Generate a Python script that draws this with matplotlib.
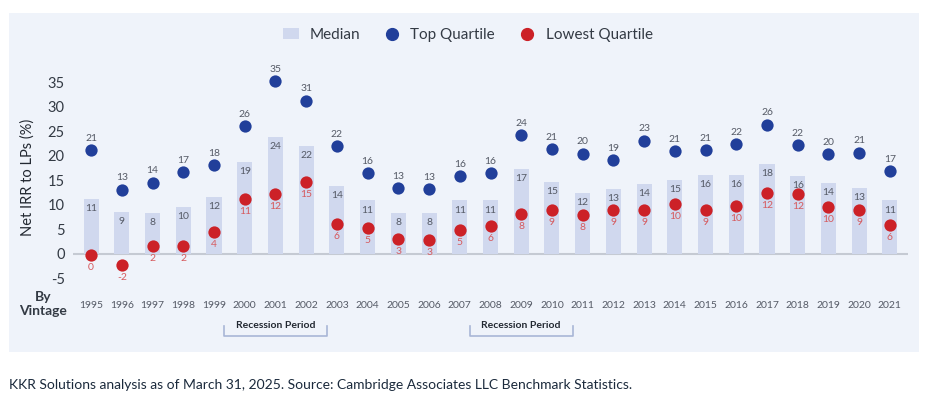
import matplotlib
matplotlib.use("Agg")
import matplotlib.pyplot as plt
from matplotlib.patches import Rectangle
from matplotlib.lines import Line2D
import numpy as np

years = list(range(1995, 2022))
median = [11.2, 8.6, 8.4, 9.6, 11.7, 18.7, 23.8, 22.0, 13.9, 10.9, 8.3, 8.3, 10.9, 10.9,
          17.4, 14.7, 12.4, 13.2, 14.2, 15.1, 16.1, 16.1, 18.4, 15.9, 14.4, 13.4, 10.9]
top_quartile = [21.2, 13.1, 14.5, 16.7, 18.1, 26.0, 35.2, 31.2, 21.9, 16.4, 13.4, 13.2, 15.9, 16.4,
                24.2, 21.4, 20.4, 19.1, 23.1, 21.0, 21.2, 22.3, 26.3, 22.1, 20.3, 20.6, 16.8]
lowest_quartile = [-0.3, -2.3, 1.6, 1.7, 4.4, 11.1, 12.3, 14.7, 6.2, 5.2, 3.0, 2.8, 4.9, 5.6,
                   8.2, 9.0, 7.9, 9.0, 9.0, 10.2, 9.0, 9.8, 12.4, 12.2, 9.6, 9.0, 6.0]
yticks = [-5, 0, 5, 10, 15, 20, 25, 30, 35]
recessions = [(2000, 2002), (2008, 2010)]

FONT = "Lato"
BAR = "#d0d8ee"
BLUE = "#213f9a"
RED = "#cc2127"
PANEL = "#eff3fa"
GRAY = "#555a66"
LRED = "#d65a5e"

W, H = 933, 403
fig = plt.figure(figsize=(W / 100, H / 100), dpi=100)
fig.patch.set_facecolor("white")
fig.patches.append(Rectangle((9 / W, 1 - 352 / H), (919 - 9) / W, (352 - 13) / H,
                             transform=fig.transFigure, facecolor=PANEL, edgecolor="none", zorder=-5))

ax = fig.add_axes([73 / W, 0.2844, 835 / W, 0.833 - 0.2844])
ax.set_zorder(2)
ax.set_facecolor("none")
x = np.arange(len(years))
ax.bar(x, median, width=0.49, color=BAR, zorder=2)
ax.axhline(0, color="#c5cad3", lw=1.5, zorder=1)
ax.scatter(x, top_quartile, s=78, color=BLUE, zorder=4, linewidths=0)
ax.scatter(x, lowest_quartile, s=78, color=RED, zorder=4, linewidths=0)

for xi, m, t, l in zip(x, median, top_quartile, lowest_quartile):
    ax.annotate(f"{round(m)}", (xi, m), xytext=(0, -7), textcoords="offset points",
                ha="center", va="center", fontsize=7.5, color=GRAY, family=FONT, zorder=5)
    ax.annotate(f"{round(t)}", (xi, t), xytext=(0, 8.5), textcoords="offset points",
                ha="center", va="center", fontsize=7.5, color=GRAY, family=FONT, zorder=5)
    ax.annotate(f"{round(l)}", (xi, l), xytext=(0, -9), textcoords="offset points",
                ha="center", va="center", fontsize=7.5, color=LRED, family=FONT, zorder=5)

ax.set_xlim(-0.59, len(years) - 1 + 0.59)
ax.set_ylim(-7, 38)
ax.set_yticks(yticks)
ax.set_yticklabels([str(v) for v in yticks], family=FONT, fontsize=10.5, color="#333a44")
ax.set_xticks(x)
ax.set_xticklabels([str(y) for y in years], family=FONT, fontsize=7.5, color=GRAY)
ax.tick_params(axis="x", length=0, pad=9)
ax.tick_params(axis="y", length=0, pad=6)
for s in ax.spines.values():
    s.set_visible(False)

ax.set_ylabel("Net IRR to LPs (%)", family=FONT, fontsize=10.5, color="#222831",
              labelpad=9)

fig.text(43 / W, 1 - 304 / H, "By\nVintage", ha="center", va="center", family=FONT,
         fontsize=10, fontweight="bold", color="#333a44", linespacing=1.2)

# recession brackets
for a, b in recessions:
    i0, i1 = years.index(a), years.index(b)
    xa, xb = i0 - 0.67, i1 + 0.67
    ax.plot([xa, xa, xb, xb], [-14.7, -16.7, -16.7, -14.7], color="#a9b6d6", lw=1.2,
            clip_on=False, zorder=3)
    ax.text((i0 + i1) / 2, -14.5, "Recession Period", ha="center", va="center",
            family=FONT, fontsize=7.5, fontweight="bold", color="#222831", clip_on=False)

handles = [
    Rectangle((0, 0), 1, 1, facecolor=BAR, edgecolor="none"),
    Line2D([], [], marker="o", ls="none", color=BLUE, markersize=8.5),
    Line2D([], [], marker="o", ls="none", color=RED, markersize=8.5),
]
leg = fig.legend(handles, ["Median", "Top Quartile", "Lowest Quartile"], ncol=3,
                 loc="center", bbox_to_anchor=(468 / W, 1 - 35 / H), frameon=False,
                 prop={"family": FONT, "size": 11}, columnspacing=1.6, handlelength=1.0,
                 handletextpad=0.7)
for t in leg.get_texts():
    t.set_color("#333a44")

fig.text(9 / W, 1 - 385 / H,
         "KKR Solutions analysis as of March 31, 2025. Source: Cambridge Associates LLC Benchmark Statistics.",
         ha="left", va="center", family=FONT, fontsize=10, color="#1b2a3c")

fig.savefig("out.png", dpi=100)
